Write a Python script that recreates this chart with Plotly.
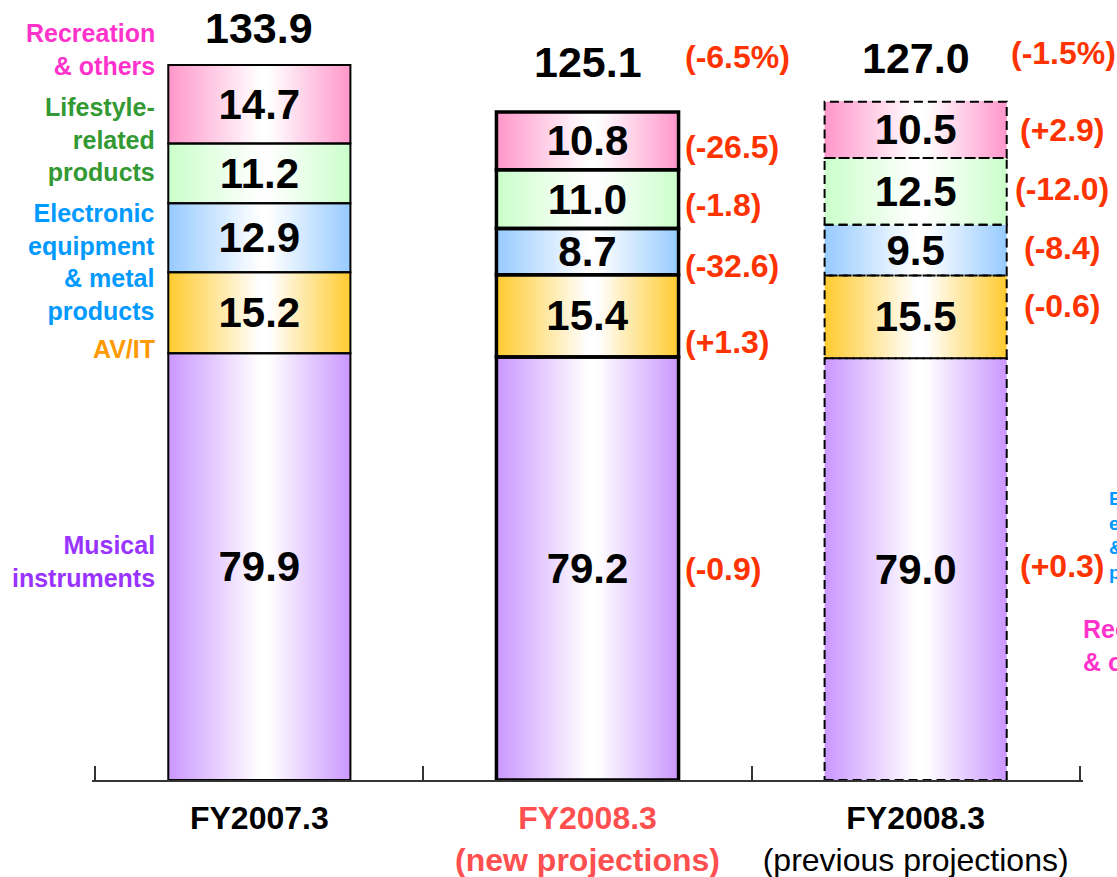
import plotly.graph_objects as go

# data
periods = ["FY2007.3", "FY2008.3 new", "FY2008.3 previous"]
tick_text = [
    "<b>FY2007.3</b>",
    "<b><span style='color:#FF4F4F'>FY2008.3<br>(new projections)</span></b>",
    "<b>FY2008.3</b><br>(previous projections)",
]
segment_labels = [
    "Musical<br>instruments",
    "AV/IT",
    "Electronic<br>equipment<br>& metal<br>products",
    "Lifestyle-<br>related<br>products",
    "Recreation<br>& others",
]
musical_instruments = [79.9, 79.2, 79.0]
av_it = [15.2, 15.4, 15.5]
electronic_metal = [12.9, 8.7, 9.5]
lifestyle = [11.2, 11.0, 12.5]
recreation = [14.7, 10.8, 10.5]
totals = [133.9, 125.1, 127.0]
total_change = ["", "(-6.5%)", "(-1.5%)"]
change_new = ["(-0.9)", "(+1.3)", "(-32.6)", "(-1.8)", "(-26.5)"]
change_prev = ["(+0.3)", "(-0.6)", "(-8.4)", "(-12.0)", "(+2.9)"]

values = [musical_instruments, av_it, electronic_metal, lifestyle, recreation]

# styling
bar_colors = ["#CC99FF", "#FFCC33", "#99CCFF", "#CCFFCC", "#FF99CC"]
label_colors = ["#9933FF", "#FF9900", "#0099FF", "#339933", "#FF33CC"]
red = "#FF3300"
FONT = "Liberation Sans, Arial, sans-serif"
W = 0.555        # bar width in category units
PEAK = 0.53      # where the gradient turns white
STEPS = 32
label_shift = [5, -36, -24, 34, 55]
new_shift = [0, -26, -14, -6, -6]
prev_shift = [3, 11, 2, 2, 0]
total_lift = [37, 50, 44]


def mix(hex_color, t):
    r, g, b = (int(hex_color[i:i + 2], 16) for i in (1, 3, 5))
    return "rgb(%d,%d,%d)" % (r + (255 - r) * t, g + (255 - g) * t, b + (255 - b) * t)


# stack bases
bases = []
running = [0.0, 0.0, 0.0]
for vals in values:
    bases.append(list(running))
    running = [a + b for a, b in zip(running, vals)]

xs, ys, bs, cs, txt = [], [], [], [], []
for s, vals in enumerate(values):
    xs += periods
    ys += vals
    bs += bases[s]
    cs += [bar_colors[s]] * 3
    txt += ["%.1f" % v for v in vals]

fig = go.Figure()

# horizontal gradient: nested bars that shrink towards the light spot
for k in range(STEPS):
    t = k / STEPS
    fig.add_trace(go.Bar(
        x=xs, y=ys, base=bs,
        width=W * (1 - t), offset=-W / 2 + PEAK * W * t,
        marker=dict(color=[mix(c, min(1.0, t * 1.08)) for c in cs], line_width=0),
        hoverinfo="skip", showlegend=False,
    ))

# outlines + value labels
fig.add_trace(go.Bar(
    x=xs, y=ys, base=bs, width=W, offset=-W / 2,
    marker=dict(color="rgba(0,0,0,0)", line=dict(color="black", width=[2, 3.5, 0] * 5)),
    text=txt, textposition="inside", insidetextanchor="middle", textangle=0,
    constraintext="none",
    textfont=dict(family=FONT, size=42, color="black", weight="bold"),
    hoverinfo="skip", showlegend=False,
))

# dashed outline for the previous projections bar
for s, vals in enumerate(values):
    fig.add_shape(type="rect", xref="x", yref="y",
                  x0=2 - W / 2, x1=2 + W / 2, y0=bases[s][2], y1=bases[s][2] + vals[2],
                  line=dict(color="black", width=2, dash="9px,5px"))

# totals
for i, tot in enumerate(totals):
    fig.add_annotation(x=periods[i], y=tot, text="<b>%.1f</b>" % tot, showarrow=False,
                       yanchor="middle", yshift=total_lift[i],
                       font=dict(family=FONT, size=43, color="black"))
    if total_change[i]:
        left = i == 1
        fig.add_annotation(x=i + W / 2, y=tot, text="<b>%s</b>" % total_change[i], showarrow=False,
                           xanchor="left" if left else "center", xshift=4 if left else 57,
                           yanchor="middle", yshift=total_lift[i] + 5,
                           font=dict(family=FONT, size=32, color=red))

# change labels beside bars
for s in range(len(values)):
    mid_new = bases[s][1] + values[s][1] / 2
    mid_prev = bases[s][2] + values[s][2] / 2
    fig.add_annotation(x=1 + W / 2, y=mid_new, text="<b>%s</b>" % change_new[s], showarrow=False,
                       xanchor="left", xshift=4, yanchor="middle", yshift=new_shift[s],
                       font=dict(family=FONT, size=32, color=red))
    fig.add_annotation(x=2 + W / 2, y=mid_prev, text="<b>%s</b>" % change_prev[s], showarrow=False,
                       xanchor="center", xshift=55, yanchor="middle", yshift=prev_shift[s],
                       font=dict(family=FONT, size=32, color=red))
    # segment names on the left
    fig.add_annotation(xref="paper", x=0.0656, y=bases[s][0] + values[s][0] / 2,
                       text="<b>%s</b>" % segment_labels[s], showarrow=False,
                       xanchor="right", align="right", yanchor="middle", yshift=label_shift[s],
                       font=dict(family=FONT, size=25, color=label_colors[s]))

# legend fragments cut off at the right edge
fig.add_annotation(xref="paper", yref="paper", x=1.0242, y=0.314, xanchor="left", yanchor="middle",
                   text="<b>Electronic<br>equipment<br>& metal<br>products</b>", align="left",
                   showarrow=False, font=dict(family=FONT, size=19, color=label_colors[2]))
fig.add_annotation(xref="paper", yref="paper", x=0.998, y=0.173, xanchor="left", yanchor="middle",
                   text="<b>Recreation<br>& others</b>", align="left",
                   showarrow=False, font=dict(family=FONT, size=25, color=label_colors[4]))

fig.update_layout(
    width=1117, height=877,
    margin=dict(l=92, r=34, t=0, b=97),
    barmode="overlay",
    plot_bgcolor="white", paper_bgcolor="white",
    font=dict(family=FONT),
    showlegend=False,
)
# range padded a little so the end boundary ticks are drawn
fig.update_xaxes(
    type="category", categoryorder="array", categoryarray=periods,
    tickvals=periods, ticktext=tick_text, range=[-0.51, 2.51],
    tickson="boundaries", ticks="inside", ticklen=14, tickwidth=1.5, tickcolor="#333",
    showline=True, linecolor="#333", linewidth=1.5, showgrid=False,
    tickfont=dict(family=FONT, size=32, color="black"), ticklabelstandoff=9,
)
fig.update_yaxes(visible=False, range=[0, 146.07], showgrid=False, zeroline=False)

# drop the default 8px page margin so the figure fills the window
fig.write_html("out.html", config={"displayModeBar": False},
               post_script="document.body.style.margin='0';document.body.style.overflow='hidden';")
